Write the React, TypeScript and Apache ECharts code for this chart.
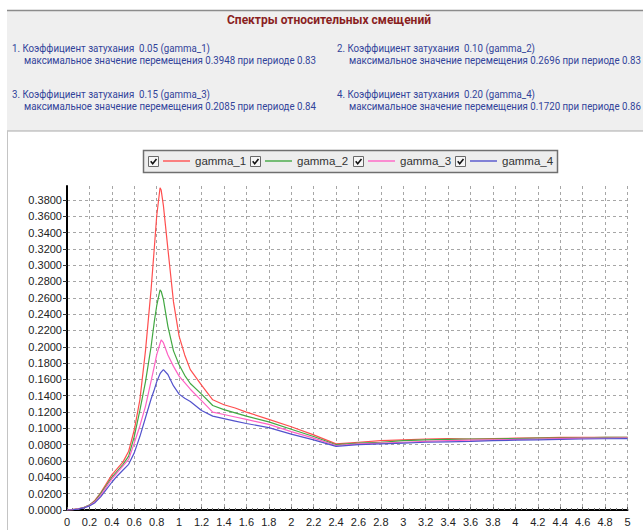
import React, { useEffect, useRef } from 'react';
import * as echarts from 'echarts';

// Oscillator periods, s
const periods = [
  0, 0.05, 0.1, 0.15, 0.2, 0.25, 0.3, 0.35, 0.4, 0.45, 0.5, 0.55, 0.6, 0.65, 0.7, 0.75, 0.78, 0.8,
  0.83, 0.84, 0.86, 0.9, 0.95, 1.0, 1.05, 1.1, 1.2, 1.3, 1.4, 1.5, 1.6, 1.8, 2.0, 2.2, 2.4, 2.6,
  2.8, 3.0, 3.2, 3.4, 3.6, 3.8, 4.0, 4.2, 4.4, 4.6, 4.8, 5.0,
];

// Relative displacement spectra for each damping ratio
const gamma1 = [
  0, 0.0005, 0.0015, 0.003, 0.006, 0.012, 0.021, 0.032, 0.043, 0.051, 0.059, 0.072, 0.098, 0.135,
  0.195, 0.27, 0.323, 0.36, 0.3948, 0.392, 0.373, 0.32, 0.255, 0.213, 0.19, 0.172, 0.153, 0.135,
  0.129, 0.125, 0.12, 0.111, 0.102, 0.092, 0.081, 0.083, 0.085, 0.086, 0.087, 0.0875, 0.087,
  0.0875, 0.088, 0.0885, 0.089, 0.089, 0.089, 0.089,
];
const gamma2 = [
  0, 0.0005, 0.0015, 0.003, 0.006, 0.011, 0.02, 0.03, 0.04, 0.048, 0.056, 0.066, 0.09, 0.122,
  0.157, 0.2, 0.232, 0.25, 0.2696, 0.268, 0.258, 0.225, 0.195, 0.178, 0.165, 0.155, 0.142, 0.128,
  0.123, 0.119, 0.115, 0.108, 0.099, 0.09, 0.08, 0.082, 0.083, 0.085, 0.086, 0.0865, 0.087,
  0.087, 0.0875, 0.088, 0.088, 0.0885, 0.089, 0.089,
];
const gamma3 = [
  0, 0.0004, 0.0013, 0.0028, 0.0055, 0.01, 0.018, 0.028, 0.038, 0.046, 0.054, 0.062, 0.082, 0.103,
  0.127, 0.158, 0.177, 0.19, 0.204, 0.2085, 0.205, 0.19, 0.176, 0.164, 0.156, 0.148, 0.134, 0.12,
  0.117, 0.114, 0.111, 0.105, 0.096, 0.088, 0.079, 0.081, 0.082, 0.083, 0.084, 0.085, 0.0855,
  0.086, 0.0865, 0.087, 0.0875, 0.088, 0.088, 0.0885,
];
const gamma4 = [
  0, 0.0003, 0.001, 0.0025, 0.005, 0.009, 0.016, 0.025, 0.034, 0.042, 0.049, 0.056, 0.07, 0.09,
  0.113, 0.136, 0.148, 0.157, 0.167, 0.169, 0.172, 0.166, 0.152, 0.142, 0.137, 0.133, 0.122, 0.115,
  0.112, 0.109, 0.106, 0.101, 0.093, 0.086, 0.078, 0.08, 0.081, 0.082, 0.083, 0.0835, 0.084,
  0.085, 0.0855, 0.086, 0.0865, 0.087, 0.0873, 0.0875,
];

const seriesNames = ['gamma_1', 'gamma_2', 'gamma_3', 'gamma_4'];
const seriesColors = ['#ff4f4f', '#42a842', '#ff62c4', '#5252cc'];
const dampingRatios = ['0.05', '0.10', '0.15', '0.20'];
const peakValues = ['0.3948', '0.2696', '0.2085', '0.1720'];
const peakPeriods = ['0.83', '0.83', '0.84', '0.86'];

const titleText = 'Спектры относительных смещений';

export default function App() {
  const ref = useRef<HTMLDivElement>(null);

  useEffect(() => {
    const el = ref.current;
    if (!el) return;
    const chart = echarts.init(el, null, { renderer: 'svg' });

    // legend row: one checkbox + line sample + name per series
    const legendStart = 163;
    const legendStep = 102.3;
    const iconW = 27;

    const headerFont = 'Roboto, "Noto Sans", sans-serif';
    const textColor = '#31439a';
    const narrow = 0.925;

    const infoTexts: any[] = [];
    seriesNames.forEach((name, i) => {
      const col = i % 2;
      const row = Math.floor(i / 2);
      const x0 = col === 0 ? 12 : 337;
      const y0 = row === 0 ? 48 : 94;
      infoTexts.push({
        type: 'text',
        x: x0,
        y: y0,
        scaleX: narrow,
        style: {
          text: `${i + 1}. Коэффициент затухания  ${dampingRatios[i]} (${name})`,
          fill: textColor,
          font: `10.5px ${headerFont}`,
          textVerticalAlign: 'middle',
        },
      });
      infoTexts.push({
        type: 'text',
        x: x0 + 12,
        y: y0 + 12,
        scaleX: narrow,
        style: {
          text: `максимальное значение перемещения ${peakValues[i]} при периоде ${peakPeriods[i]}`,
          fill: textColor,
          font: `10.5px ${headerFont}`,
          textVerticalAlign: 'middle',
        },
      });
    });

    const checkboxes: any[] = [];
    seriesNames.forEach((_, i) => {
      const x = Math.round(legendStart - 15 + i * legendStep) + 0.5;
      const y = 156.5;
      checkboxes.push({
        type: 'rect',
        z: 10,
        shape: { x, y, width: 10, height: 10 },
        style: { fill: '#f6f6f6', stroke: '#6a6a6a', lineWidth: 1 },
      });
      checkboxes.push({
        type: 'polyline',
        z: 11,
        shape: { points: [[x + 2.2, y + 4.8], [x + 4.2, y + 7.2], [x + 8, y + 2.6]] },
        style: { stroke: '#111', lineWidth: 1.6, fill: null },
      });
    });

    const lists = [gamma1, gamma2, gamma3, gamma4];

    const option: any = {
      animation: false,
      backgroundColor: '#ffffff',
      graphic: [
        {
          type: 'rect',
          z: 0,
          shape: { x: 7, y: 10, width: 640, height: 121 },
          style: { fill: '#efefef' },
        },
        {
          type: 'line',
          z: 1,
          shape: { x1: 7, y1: 10.5, x2: 643, y2: 10.5 },
          style: { stroke: '#8c8c8c', lineWidth: 1.5 },
        },
        {
          type: 'line',
          z: 1,
          shape: { x1: 7, y1: 131, x2: 643, y2: 131 },
          style: { stroke: '#a9a9a9', lineWidth: 1 },
        },
        {
          type: 'line',
          z: 1,
          shape: { x1: 7.5, y1: 131, x2: 7.5, y2: 530 },
          style: { stroke: '#c4c4c4', lineWidth: 1 },
        },
        {
          type: 'text',
          z: 2,
          x: 329,
          y: 20,
          style: {
            text: titleText,
            fill: '#8a1f1f',
            font: `bold 12px ${headerFont}`,
            textAlign: 'center',
            textVerticalAlign: 'middle',
          },
        },
        ...infoTexts,
        {
          type: 'rect',
          z: 1,
          shape: { x: 143.5, y: 150.5, width: 414, height: 22 },
          style: { fill: '#ededed', stroke: '#6f6f6f', lineWidth: 1.5 },
        },
        ...checkboxes,
      ],
      legend: seriesNames.map((name, i) => ({
        left: Math.round(legendStart + i * legendStep),
        top: 155,
        z: 12,
        icon: 'rect',
        itemWidth: iconW,
        itemHeight: 1.4,
        itemTextGap: 3,
        selectedMode: false,
        padding: 0,
        textStyle: { fontSize: 11.5, fontFamily: 'Arial, "Liberation Sans", sans-serif', color: '#333' },
        data: [name],
      })),
      grid: { left: 67, right: 15.5, top: 186, bottom: 20, containLabel: false },
      xAxis: {
        type: 'value',
        min: 0,
        max: 5,
        interval: 0.2,
        axisLine: { show: true, lineStyle: { color: '#000', width: 2 } },
        axisTick: { show: true, inside: true, length: 3, lineStyle: { color: '#555' } },
        minorTick: { show: true, splitNumber: 4, length: 2, lineStyle: { color: '#777' } },
        axisLabel: {
          color: '#222',
          fontSize: 11,
          fontFamily: 'Arial, "Liberation Sans", sans-serif',
          margin: 6,
        },
        splitLine: { show: true, lineStyle: { color: '#a6a6a6', type: [3, 3], width: 1 } },
      },
      yAxis: {
        type: 'value',
        min: 0,
        max: 0.397,
        interval: 0.02,
        axisLine: { show: true, lineStyle: { color: '#000', width: 2 } },
        axisTick: { show: true, length: 4, lineStyle: { color: '#333' } },
        axisLabel: {
          color: '#222',
          fontSize: 11,
          fontFamily: 'Arial, "Liberation Sans", sans-serif',
          margin: 5,
          showMaxLabel: false,
          formatter: (v: number) => v.toFixed(4),
        },
        splitLine: {
          show: true,
          showMaxLine: false,
          lineStyle: { color: '#a6a6a6', type: [3, 3], width: 1 },
        },
      },
      series: seriesNames.map((name, i) => ({
        name,
        type: 'line',
        showSymbol: false,
        symbol: 'none',
        color: seriesColors[i],
        lineStyle: { width: 1.2, color: seriesColors[i] },
        data: periods.map((p, j) => [p, lists[i][j]]),
      })),
    };

    chart.setOption(option);
    return () => chart.dispose();
  }, []);

  return (
    <div
      ref={ref}
      style={{ position: 'fixed', left: 0, top: 0, width: 643, height: 530, background: '#fff' }}
    />
  );
}
